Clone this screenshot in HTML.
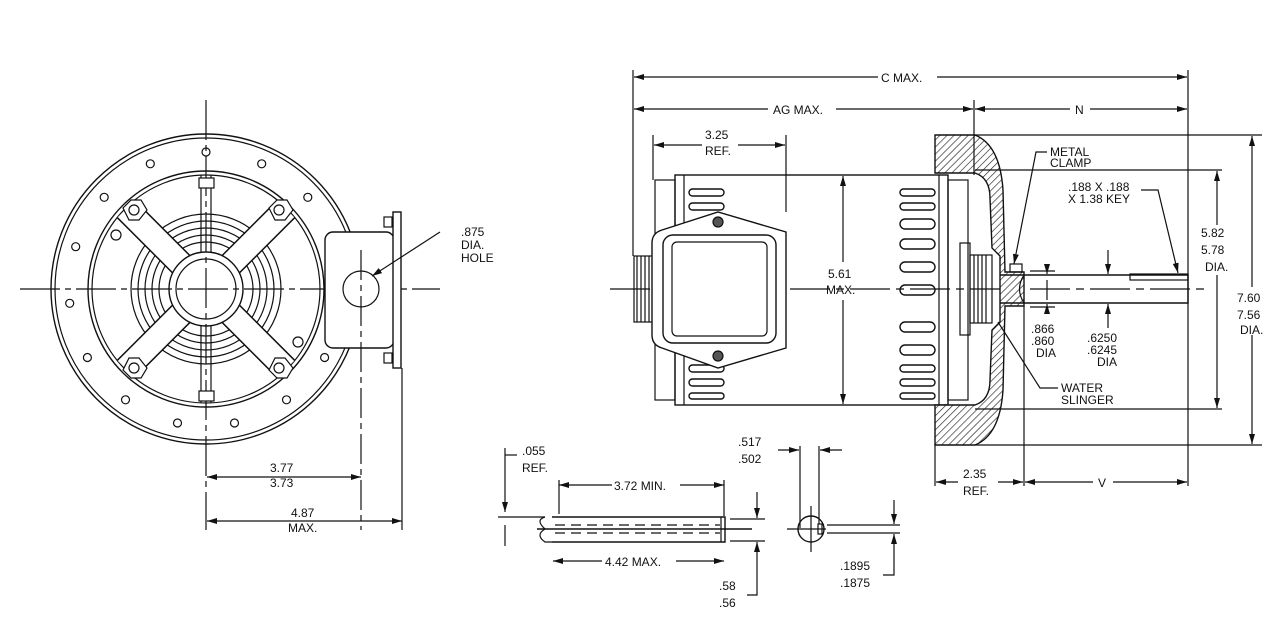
<!DOCTYPE html>
<html><head><meta charset="utf-8"><style>
html,body{margin:0;padding:0;background:#fff;}
svg{display:block;}
text{font-family:"Liberation Sans",sans-serif;font-size:12px;fill:#111;}
</style></head><body>
<svg width="1280" height="634" viewBox="0 0 1280 634" xmlns="http://www.w3.org/2000/svg">
<defs>
<pattern id="h" width="5" height="5" patternUnits="userSpaceOnUse" patternTransform="rotate(45)">
<rect width="5" height="5" fill="#fff"/><line x1="0" y1="0" x2="0" y2="5" stroke="#222" stroke-width="1.3"/></pattern>
<marker id="a" viewBox="0 0 10 6" refX="10" refY="3" markerWidth="10" markerHeight="6" orient="auto-start-reverse" markerUnits="userSpaceOnUse"><path d="M0,0 L10,3 L0,6z" fill="#111"/></marker>
</defs>
<g stroke="#111" stroke-width="1.2" fill="none">
<!-- LEFT VIEW -->
<circle cx="206" cy="289" r="155" stroke-width="1.4"/>
<circle cx="206" cy="289" r="151"/>
<circle cx="206" cy="289" r="118" stroke-width="1.4"/>
<circle cx="206" cy="289" r="114"/>
<g>
<circle cx="206" cy="152" r="4"/>
<circle cx="261.7" cy="163.8" r="4"/><circle cx="307.8" cy="197.3" r="4"/><circle cx="336.3" cy="246.7" r="4"/><circle cx="342.3" cy="303.3" r="4"/><circle cx="324.6" cy="357.5" r="4"/><circle cx="286.5" cy="399.8" r="4"/><circle cx="234.5" cy="423" r="4"/>
<circle cx="150.3" cy="163.8" r="4"/><circle cx="104.2" cy="197.3" r="4"/><circle cx="75.7" cy="246.7" r="4"/><circle cx="69.7" cy="303.3" r="4"/><circle cx="87.4" cy="357.5" r="4"/><circle cx="125.5" cy="399.8" r="4"/><circle cx="177.5" cy="423" r="4"/>
</g>
<circle cx="206" cy="289" r="75"/><circle cx="206" cy="289" r="68"/><circle cx="206" cy="289" r="61"/><circle cx="206" cy="289" r="54"/><circle cx="206" cy="289" r="47"/>
<!-- X bracket bands -->
<path d="M126,209 L286,369 M286,209 L126,369" stroke="#111" stroke-width="26"/>
<path d="M126,209 L286,369 M286,209 L126,369" stroke="#fff" stroke-width="23"/>
<path d="M201,175 V403 M211,175 V403" />
<circle cx="206" cy="289" r="37" fill="#fff" stroke-width="1.4"/><circle cx="206" cy="289" r="30"/>
<line x1="206" y1="100" x2="206" y2="530" stroke-dasharray="40,5,6,5"/>
<line x1="20" y1="289" x2="440" y2="289" stroke-dasharray="40,5,6,5"/>
<rect x="199" y="178" width="15" height="10" fill="#fff"/><rect x="199" y="391" width="15" height="10" fill="#fff"/>
<path d="M123,208 l8,-8 h10 l6,10 l-8,10 h-10z M269,208 l8,-8 h10 l6,10 l-8,10 h-10z M123,370 l8,8 h10 l6,-10 l-8,-10 h-10z M269,370 l8,8 h10 l6,-10 l-8,-10 h-10z" fill="#fff"/>
<circle cx="134" cy="210" r="5"/><circle cx="279" cy="210" r="5"/><circle cx="134" cy="368" r="5"/><circle cx="279" cy="368" r="5"/>
<circle cx="116" cy="235" r="5" fill="#fff"/><circle cx="298" cy="342" r="5" fill="#fff"/>
<!-- junction box -->
<rect x="325" y="232" width="69" height="116" rx="8" fill="#fff" stroke-width="1.4"/>
<circle cx="361" cy="289" r="18"/>
<line x1="361" y1="250" x2="361" y2="530" stroke-dasharray="30,5,6,5"/>
<rect x="393" y="212" width="8" height="156" fill="#fff" stroke-width="1.4"/>
<rect x="384" y="217" width="8" height="10"/><rect x="384" y="353" width="8" height="10"/>
<line x1="402" y1="368" x2="402" y2="530"/>
<line x1="440" y1="232" x2="372" y2="276" marker-end="url(#a)"/>
<line x1="207" y1="477" x2="361" y2="477" marker-start="url(#a)" marker-end="url(#a)"/>
<line x1="207" y1="521" x2="402" y2="521" marker-start="url(#a)" marker-end="url(#a)"/>

<!-- RIGHT VIEW -->
<rect x="675" y="175" width="273" height="230" stroke-width="1.4"/>
<line x1="684" y1="175" x2="684" y2="405"/>
<line x1="939" y1="175" x2="939" y2="405"/>
<rect x="655" y="180" width="20" height="220"/>
<rect x="948" y="180" width="20" height="220"/>
<rect x="634" y="256" width="20" height="66"/>
<path d="M637,256 V322 M641,256 V322 M645,256 V322 M649,256 V322"/>
<g stroke-width="1.4">
<rect x="689" y="189" width="35" height="7" rx="3.5"/><rect x="689" y="203" width="35" height="7" rx="3.5"/>
<rect x="689" y="365" width="35" height="7" rx="3.5"/><rect x="689" y="379" width="35" height="7" rx="3.5"/><rect x="689" y="393" width="35" height="6" rx="3"/>
<rect x="900" y="189" width="35" height="7" rx="3.5"/><rect x="900" y="203" width="35" height="7" rx="3.5"/>
<rect x="900" y="219" width="35" height="10" rx="5"/><rect x="900" y="239" width="35" height="10" rx="5"/><rect x="900" y="262" width="35" height="10" rx="5"/><rect x="900" y="285" width="35" height="10" rx="5"/>
<rect x="900" y="322" width="35" height="10" rx="5"/><rect x="900" y="345" width="35" height="10" rx="5"/><rect x="900" y="365" width="35" height="7" rx="3.5"/><rect x="900" y="379" width="35" height="7" rx="3.5"/><rect x="900" y="393" width="35" height="6" rx="3"/>
</g>
<line x1="610" y1="289" x2="1210" y2="289" stroke-dasharray="40,6,8,6"/>
<path d="M662,230 L718,212 L786,232 V348 L718,368 L662,348 Q652,345 652,335 V243 Q652,233 662,230z" fill="#fff" stroke-width="1.4"/>
<rect x="663" y="235" width="113" height="108" rx="10" stroke-width="1.4"/>
<rect x="672" y="242" width="95" height="94" rx="5"/>
<circle cx="718" cy="222" r="5" fill="#555"/><circle cx="718" cy="356" r="5" fill="#555"/>
<rect x="960" y="243" width="10" height="92"/>
<rect x="970" y="255" width="22" height="68"/>
<path d="M974,255 V323 M978,255 V323 M982,255 V323 M986,255 V323"/>
<path d="M935,135 H975 Q1000,145 1003,190 L1005,272 H1024 V306 H1005 L1003,390 Q1000,435 975,445 H935 V405 H975 Q990,400 990,380 L992,330 L1000,322 V256 L992,248 L990,198 Q990,178 975,173 H935z" fill="url(#h)" stroke-width="1.4"/>
<rect x="1010" y="264" width="12" height="8"/>
<path d="M1000,275 H1188 V303 H1000" stroke-width="1.4"/>
<path d="M1024,275 Q1015,289 1024,303"/>
<rect x="1130" y="274" width="58" height="6"/>
<line x1="633" y1="70" x2="633" y2="256"/>
<line x1="974" y1="100" x2="974" y2="175"/>
<line x1="1188" y1="70" x2="1188" y2="486"/>
<line x1="653" y1="135" x2="653" y2="180"/>
<line x1="786" y1="135" x2="786" y2="212"/>
<line x1="975" y1="135" x2="1262" y2="135"/>
<line x1="975" y1="170" x2="1222" y2="170"/>
<line x1="975" y1="409" x2="1222" y2="409"/>
<line x1="975" y1="445" x2="1262" y2="445"/>
<line x1="935" y1="445" x2="935" y2="486"/>
<line x1="1024" y1="306" x2="1024" y2="486"/>
<line x1="1030" y1="271" x2="1055" y2="271"/><line x1="1030" y1="307" x2="1055" y2="307"/>
<line x1="634" y1="77" x2="878" y2="77" marker-start="url(#a)"/><line x1="937" y1="77" x2="1187" y2="77" marker-end="url(#a)"/>
<line x1="634" y1="109" x2="768" y2="109" marker-start="url(#a)"/><line x1="836" y1="109" x2="973" y2="109" marker-end="url(#a)"/>
<line x1="975" y1="109" x2="1070" y2="109" marker-start="url(#a)"/><line x1="1090" y1="109" x2="1187" y2="109" marker-end="url(#a)"/>
<line x1="654" y1="145" x2="702" y2="145" marker-start="url(#a)"/><line x1="738" y1="145" x2="785" y2="145" marker-end="url(#a)"/>
<line x1="843" y1="176" x2="843" y2="262" marker-start="url(#a)"/><line x1="843" y1="300" x2="843" y2="404" marker-end="url(#a)"/>
<line x1="1217" y1="171" x2="1217" y2="225" marker-start="url(#a)"/><line x1="1217" y1="275" x2="1217" y2="408" marker-end="url(#a)"/>
<line x1="1252" y1="136" x2="1252" y2="287" marker-start="url(#a)"/><line x1="1252" y1="335" x2="1252" y2="444" marker-end="url(#a)"/>
<line x1="936" y1="482" x2="958" y2="482" marker-start="url(#a)"/><line x1="998" y1="482" x2="1023" y2="482" marker-end="url(#a)"/>
<line x1="1025" y1="482" x2="1093" y2="482" marker-start="url(#a)"/><line x1="1113" y1="482" x2="1187" y2="482" marker-end="url(#a)"/>
<line x1="1047" y1="264" x2="1047" y2="274" marker-end="url(#a)"/><line x1="1047" y1="314" x2="1047" y2="304" marker-end="url(#a)"/>
<line x1="1047" y1="280" x2="1047" y2="300"/>
<line x1="1108" y1="250" x2="1108" y2="274" marker-end="url(#a)"/><line x1="1108" y1="328" x2="1108" y2="304" marker-end="url(#a)"/>
<path d="M1047,152 H1036 L1014,264" marker-end="url(#a)"/>
<path d="M1141,190 H1158 L1178,273" marker-end="url(#a)"/>
<path d="M1058,388 H1040 L998,322"/>
<!-- BOTTOM KEY -->
<line x1="505" y1="448" x2="505" y2="512" marker-end="url(#a)"/><line x1="505" y1="546" x2="505" y2="525"/>
<line x1="505" y1="455" x2="517" y2="455"/>
<line x1="498" y1="517" x2="545" y2="517"/>
<path d="M552,517 H725 V542 H552 M537,529 H752" stroke-width="1.4"/>
<path d="M545,517 Q535,520 545,529 Q535,535 545,542 H552"/>
<path d="M555,525 H720 M555,533 H720" stroke-dasharray="10,6"/>
<line x1="721" y1="517" x2="721" y2="542"/>
<line x1="559" y1="485" x2="612" y2="485" marker-start="url(#a)"/><line x1="680" y1="485" x2="724" y2="485" marker-end="url(#a)"/>
<line x1="553" y1="561" x2="602" y2="561" marker-start="url(#a)"/><line x1="676" y1="561" x2="724" y2="561" marker-end="url(#a)"/>
<line x1="559" y1="480" x2="559" y2="514"/><line x1="724" y1="480" x2="724" y2="516"/>
<line x1="730" y1="519" x2="765" y2="519"/><line x1="730" y1="541" x2="765" y2="541"/>
<line x1="757" y1="492" x2="757" y2="518" marker-end="url(#a)"/>
<path d="M747,595 H757 V542" marker-end="url(#a)"/>
<circle cx="811" cy="529" r="13" stroke-width="1.4"/>
<line x1="811" y1="506" x2="811" y2="552"/><line x1="787" y1="529" x2="826" y2="529"/>
<rect x="818" y="524" width="4" height="10"/>
<line x1="800" y1="446" x2="800" y2="528"/><line x1="819" y1="446" x2="819" y2="524"/>
<line x1="778" y1="450" x2="799" y2="450" marker-end="url(#a)"/><line x1="842" y1="450" x2="820" y2="450" marker-end="url(#a)"/>
<line x1="827" y1="525" x2="900" y2="525"/><line x1="827" y1="533" x2="900" y2="533"/>
<line x1="894" y1="500" x2="894" y2="524" marker-end="url(#a)"/>
<path d="M883,575 H894 V534" marker-end="url(#a)"/>
</g>
<g>
<text x="461" y="236">.875</text><text x="461" y="249">DIA.</text><text x="461" y="262">HOLE</text>
<text x="270" y="472" font-size="14">3.77</text><text x="270" y="487" font-size="14">3.73</text>
<text x="291" y="517" font-size="14">4.87</text><text x="288" y="532" font-size="14">MAX.</text>
<text x="881" y="82" font-size="14">C MAX.</text>
<text x="773" y="114" font-size="14">AG MAX.</text>
<text x="1075" y="114" font-size="14">N</text>
<text x="705" y="139" font-size="14">3.25</text><text x="705" y="155" font-size="14">REF.</text>
<text x="828" y="278" font-size="14">5.61</text><text x="826" y="294" font-size="14">MAX.</text>
<text x="1050" y="156">METAL</text><text x="1050" y="167">CLAMP</text>
<text x="1068" y="191">.188 X .188</text><text x="1068" y="203">X 1.38 KEY</text>
<text x="1201" y="237" font-size="14">5.82</text><text x="1201" y="254" font-size="14">5.78</text><text x="1205" y="271" font-size="14">DIA.</text>
<text x="1237" y="302" font-size="14">7.60</text><text x="1237" y="319" font-size="14">7.56</text><text x="1240" y="334" font-size="14">DIA.</text>
<text x="1031" y="333">.866</text><text x="1031" y="345">.860</text><text x="1036" y="357">DIA</text>
<text x="1087" y="342">.6250</text><text x="1087" y="354">.6245</text><text x="1097" y="366">DIA</text>
<text x="1061" y="392">WATER</text><text x="1061" y="404">SLINGER</text>
<text x="963" y="478" font-size="14">2.35</text><text x="963" y="495" font-size="14">REF.</text>
<text x="1098" y="487" font-size="14">V</text>
<text x="522" y="455" font-size="14">.055</text><text x="522" y="472" font-size="14">REF.</text>
<text x="614" y="490" font-size="14">3.72 MIN.</text>
<text x="605" y="566" font-size="14">4.42 MAX.</text>
<text x="719" y="590" font-size="14">.58</text><text x="719" y="607" font-size="14">.56</text>
<text x="738" y="446" font-size="14">.517</text><text x="738" y="463" font-size="14">.502</text>
<text x="840" y="570" font-size="14">.1895</text><text x="840" y="587" font-size="14">.1875</text>
</g>
</svg>
</body></html>
